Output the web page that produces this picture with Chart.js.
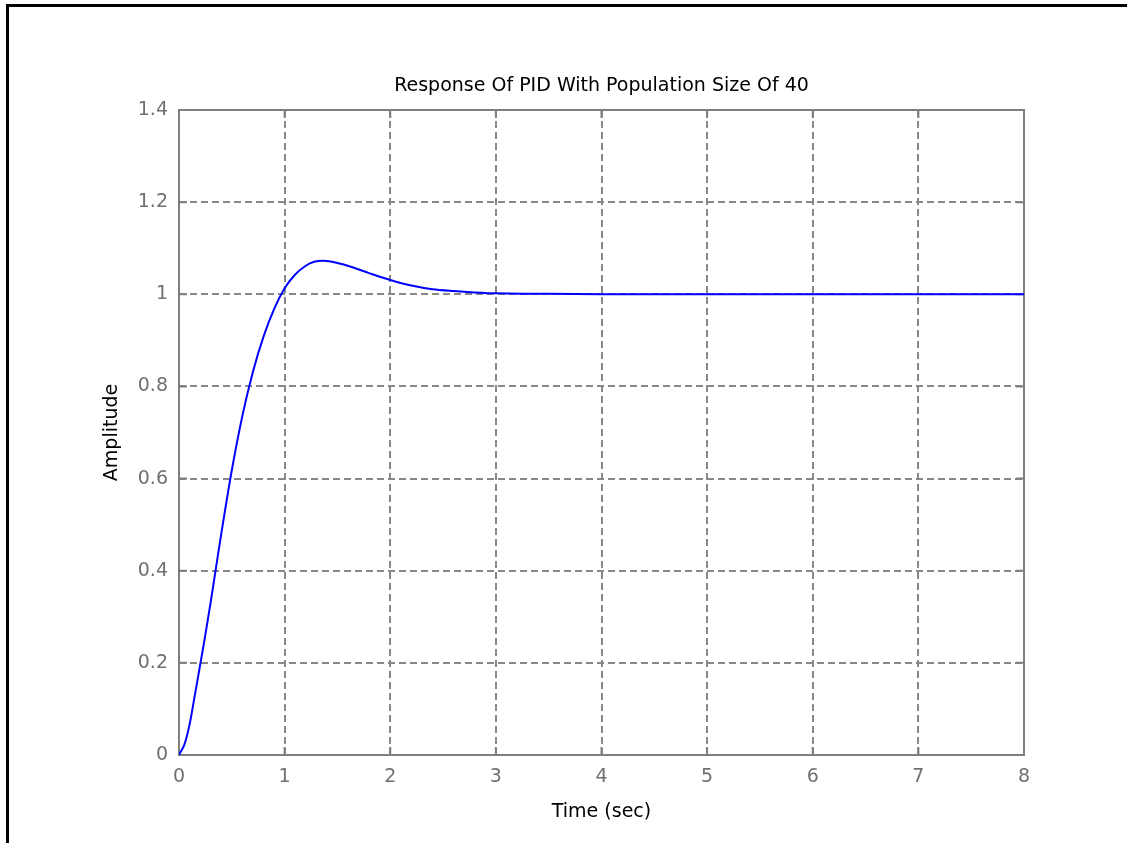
<!DOCTYPE html>
<html>
<head>
<meta charset="utf-8">
<title>Response Of PID With Population Size Of 40</title>
<script src="https://cdn.jsdelivr.net/npm/chart.js@4.4.0/dist/chart.umd.min.js"></script>
<style>
  html, body { margin: 0; padding: 0; background: #fff; overflow: hidden; }
  #frame {
    position: absolute; left: 6px; top: 4px; width: 1200px; height: 900px;
    border-left: 3px solid #000; border-top: 3px solid #000;
  }
  #wrap { position: absolute; left: 0; top: 0; width: 1127px; height: 843px; }
</style>
</head>
<body>
<div id="frame"></div>
<div id="wrap"><canvas id="stepChart" width="1127" height="843"></canvas></div>
<script>
// step response
const timeSec = [0, 0.05, 0.1, 0.15, 0.2, 0.25, 0.3, 0.35, 0.4, 0.5, 0.6, 0.7, 0.8, 0.9,
  1.0, 1.1, 1.2, 1.28, 1.36, 1.45, 1.55, 1.65, 1.8, 2.0, 2.2, 2.4, 2.6, 2.8, 3.0, 3.5, 4, 5, 6, 7, 8];
const amplitude = [0, 0.022, 0.066, 0.13, 0.195, 0.262, 0.332, 0.406, 0.48, 0.618, 0.736, 0.832, 0.908, 0.968,
  1.013, 1.043, 1.062, 1.0705, 1.0726, 1.0705, 1.065, 1.058, 1.046, 1.031, 1.019, 1.011, 1.007, 1.004, 1.002, 1.001, 1.0, 1.0, 1.0, 1.0, 1.0];

const xTickValues = [0, 1, 2, 3, 4, 5, 6, 7, 8];
const yTickValues = [0, 0.2, 0.4, 0.6, 0.8, 1, 1.2, 1.4];

const fontFamily = '"DejaVu Sans", Verdana, sans-serif';
const axisGray = '#7f7f7f';

// MATLAB style box with inward ticks
const axesBox = {
  id: 'axesBox',
  beforeDatasetsDraw(chart) {
    const {ctx, chartArea: a, scales: {x, y}} = chart;
    const tickLen = 8;
    ctx.save();
    ctx.strokeStyle = axisGray;
    ctx.lineWidth = 2;
    ctx.setLineDash([]);
    ctx.strokeRect(a.left, a.top, a.right - a.left, a.bottom - a.top);
    ctx.beginPath();
    xTickValues.forEach(v => {
      const px = x.getPixelForValue(v);
      ctx.moveTo(px, a.bottom); ctx.lineTo(px, a.bottom - tickLen);
      ctx.moveTo(px, a.top); ctx.lineTo(px, a.top + tickLen);
    });
    yTickValues.forEach(v => {
      const py = y.getPixelForValue(v);
      ctx.moveTo(a.left, py); ctx.lineTo(a.left + tickLen, py);
      ctx.moveTo(a.right, py); ctx.lineTo(a.right - tickLen, py);
    });
    ctx.stroke();
    ctx.restore();
  }
};

const ctx = document.getElementById('stepChart').getContext('2d');
new Chart(ctx, {
  type: 'line',
  data: {
    datasets: [{
      label: 'Amplitude',
      data: timeSec.map((t, i) => ({x: t, y: amplitude[i]})),
      borderColor: '#0000ff',
      borderWidth: 2,
      pointRadius: 0,
      fill: false,
      tension: 0.3
    }]
  },
  options: {
    responsive: false,
    animation: false,
    layout: {padding: {left: 0, top: 0, right: 103, bottom: 0}},
    scales: {
      x: {
        type: 'linear',
        min: 0,
        max: 8,
        afterBuildTicks: scale => { scale.ticks = xTickValues.map(v => ({value: v})); },
        afterFit: scale => { scale.height = 88; },
        grid: {color: '#888', lineWidth: 2, drawTicks: false},
        border: {display: false, dash: [7, 4]},
        ticks: {
          padding: 11,
          color: '#707070',
          font: {family: fontFamily, size: 19},
          callback: v => String(v)
        },
        title: {
          display: true,
          text: 'Time (sec)',
          color: '#000',
          font: {family: fontFamily, size: 19},
          padding: {top: 0, bottom: 20}
        }
      },
      y: {
        type: 'linear',
        min: 0,
        max: 1.4,
        afterBuildTicks: scale => { scale.ticks = yTickValues.map(v => ({value: v})); },
        afterFit: scale => { scale.width = 179; },
        grid: {color: '#888', lineWidth: 2, drawTicks: false},
        border: {display: false, dash: [7, 4]},
        ticks: {
          padding: 11,
          color: '#707070',
          font: {family: fontFamily, size: 19},
          callback: v => String(v)
        },
        title: {
          display: true,
          text: 'Amplitude',
          color: '#000',
          font: {family: fontFamily, size: 19},
          padding: {top: 101, bottom: 0}
        }
      }
    },
    plugins: {
      legend: {display: false},
      tooltip: {enabled: false},
      title: {
        display: true,
        text: 'Response Of PID With Population Size Of 40',
        fullSize: false,
        color: '#000',
        font: {family: fontFamily, size: 19, weight: 'normal', lineHeight: 1.2},
        padding: {top: 75, bottom: 12.2}
      }
    }
  },
  plugins: [axesBox]
});
</script>
</body>
</html>
